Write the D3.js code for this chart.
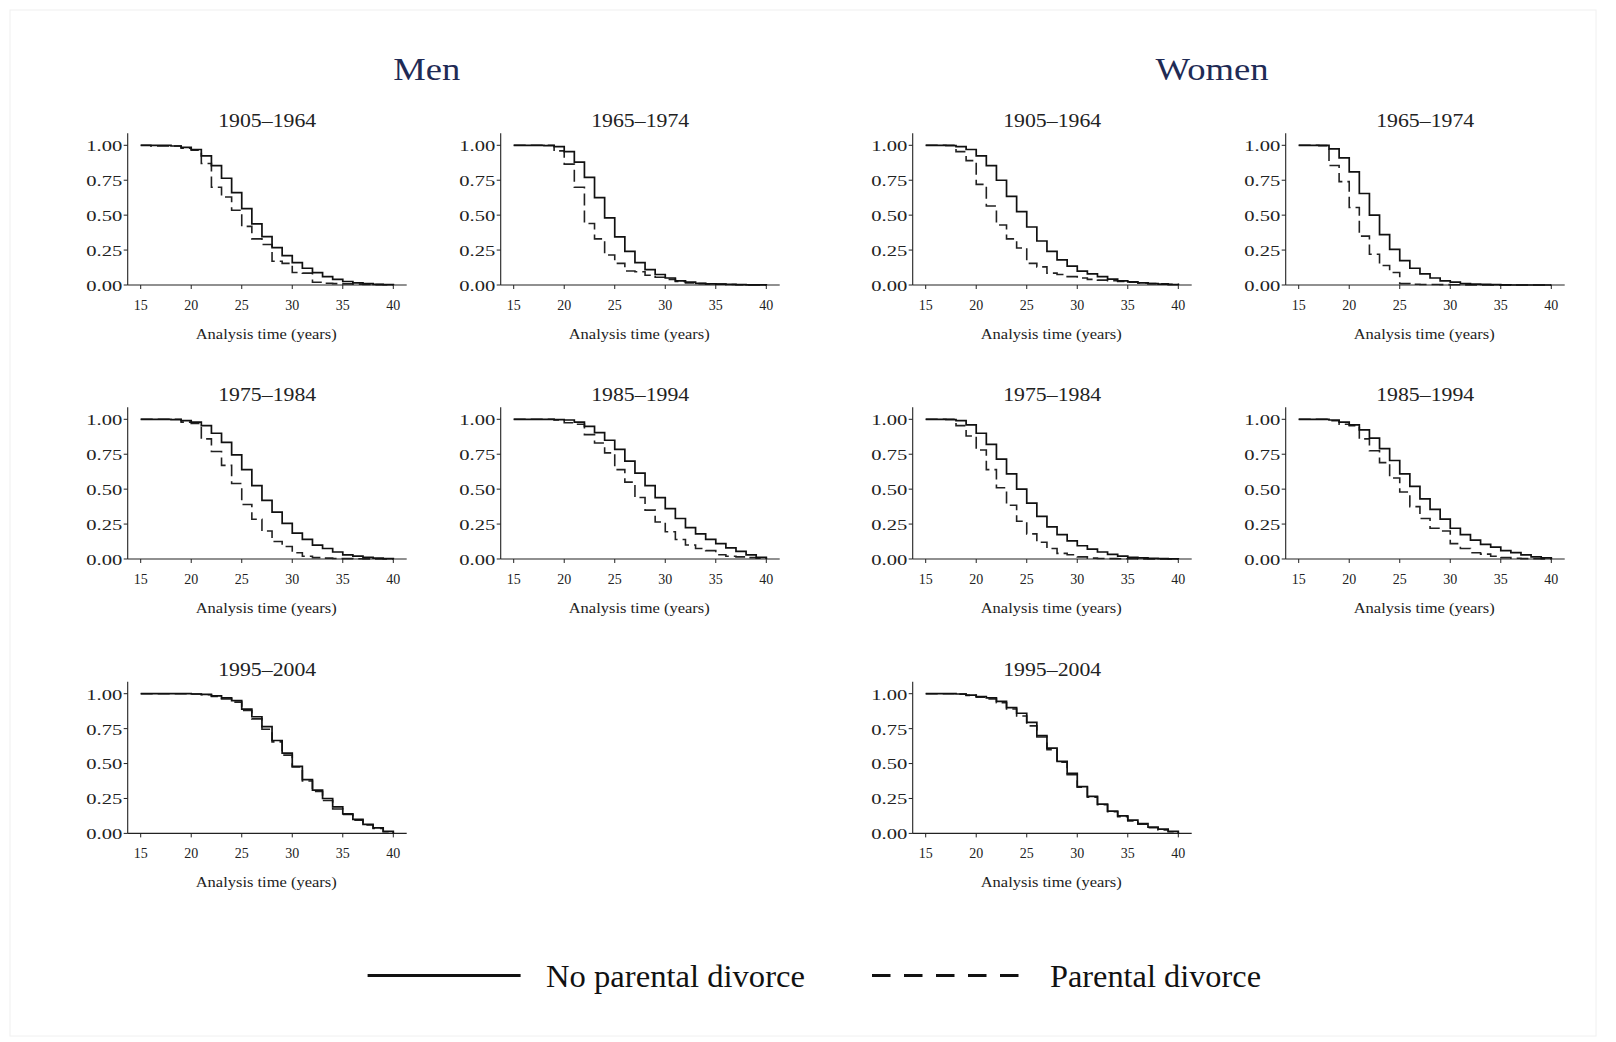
<!DOCTYPE html>
<html>
<head>
  <meta charset="UTF-8">
  <style>
    body { margin: 0; background: #fff; }
    svg { display: block; }
    text { font-family: "Liberation Serif", "Times New Roman", serif; fill: #222; }
  </style>
</head>
<body>
<svg></svg>
<script src="https://d3js.org/d3.v7.min.js"></script>
<script>

let width = 1616, height = 1042;

let svg = d3.select("svg")
    .attr("width", width)
    .attr("height", height)
    .attr("viewBox", "0 0 " + width + " " + height);

// ages (analysis time) and axis ticks
const ages = [15,16,17,18,19,20,21,22,23,24,25,26,27,28,29,30,31,32,33,34,35,36,37,38,39,40];
const xTicks = [15, 20, 25, 30, 35, 40];
const yTicks = [0, 0.25, 0.5, 0.75, 1];
const sexes = ["Men", "Women"];
const cohorts = ["1905–1964", "1965–1974", "1975–1984", "1985–1994", "1995–2004"];
const legendLabels = ["No parental divorce", "Parental divorce"];

// survival estimates, one value per age above (step after)
const menNo1905  = [1.00,1.00,1.00,0.995,0.985,0.97,0.925,0.855,0.764,0.661,0.547,0.437,0.346,0.267,0.21,0.16,0.12,0.088,0.06,0.04,0.025,0.015,0.01,0.005,0.003,0.0];
const menDiv1905 = [1.00,0.995,0.995,0.995,0.98,0.965,0.87,0.70,0.63,0.535,0.42,0.33,0.29,0.17,0.155,0.09,0.085,0.02,0.012,0.01,0.008,0.006,0.004,0.003,0.002,0.0];
const menNo1965  = [1.00,1.00,1.00,0.998,0.99,0.955,0.88,0.77,0.625,0.48,0.345,0.24,0.16,0.11,0.075,0.05,0.03,0.02,0.012,0.008,0.006,0.004,0.002,0.001,0.0005,0.0];
const menDiv1965 = [1.00,1.00,1.00,1.00,0.96,0.865,0.70,0.44,0.33,0.215,0.155,0.10,0.095,0.07,0.055,0.04,0.025,0.015,0.01,0.008,0.006,0.004,0.002,0.001,0.0,0.0];
const menNo1975  = [1.00,1.00,1.00,0.998,0.99,0.98,0.955,0.90,0.835,0.745,0.64,0.525,0.42,0.335,0.255,0.185,0.14,0.10,0.075,0.05,0.03,0.02,0.012,0.006,0.003,0.0];
const menDiv1975 = [1.00,1.00,1.00,1.00,0.98,0.97,0.86,0.77,0.67,0.54,0.39,0.285,0.20,0.125,0.09,0.045,0.02,0.01,0.006,0.004,0.003,0.002,0.001,0.0,0.0,0.0];
const menNo1985  = [1.00,1.00,1.00,1.00,0.998,0.995,0.98,0.95,0.905,0.85,0.785,0.70,0.615,0.525,0.44,0.36,0.29,0.225,0.18,0.14,0.11,0.08,0.055,0.03,0.012,0.0];
const menDiv1985 = [1.00,1.00,1.00,1.00,0.995,0.975,0.965,0.89,0.83,0.76,0.64,0.55,0.44,0.35,0.265,0.195,0.14,0.10,0.075,0.06,0.03,0.02,0.015,0.01,0.005,0.0];
const menNo1995  = [1.00,1.00,1.00,1.00,1.00,0.998,0.995,0.985,0.97,0.95,0.89,0.835,0.765,0.665,0.575,0.48,0.385,0.31,0.25,0.19,0.14,0.10,0.065,0.04,0.015,0.0];
const menDiv1995 = [1.00,1.00,1.00,1.00,1.00,0.998,0.993,0.98,0.962,0.94,0.88,0.82,0.745,0.655,0.56,0.475,0.375,0.30,0.235,0.175,0.135,0.095,0.06,0.035,0.012,0.0];

const womenNo1905  = [1.00,1.00,0.998,0.99,0.97,0.925,0.855,0.75,0.635,0.525,0.415,0.315,0.24,0.18,0.135,0.10,0.08,0.06,0.042,0.03,0.022,0.015,0.01,0.006,0.003,0.0];
const womenDiv1905 = [1.00,1.00,1.00,0.955,0.89,0.72,0.565,0.43,0.33,0.265,0.155,0.13,0.085,0.075,0.06,0.05,0.04,0.035,0.03,0.025,0.02,0.015,0.01,0.008,0.005,0.0];
const womenNo1965  = [1.00,1.00,1.00,0.975,0.91,0.81,0.655,0.50,0.36,0.255,0.175,0.12,0.08,0.05,0.03,0.02,0.01,0.006,0.004,0.002,0.001,0.0,0.0,0.0,0.0,0.0];
const womenDiv1965 = [1.00,1.00,0.998,0.855,0.74,0.555,0.35,0.22,0.14,0.09,0.01,0.005,0.004,0.004,0.003,0.002,0.001,0.0,0.0,0.0,0.0,0.0,0.0,0.0,0.0,0.0];
const womenNo1975  = [1.00,1.00,0.998,0.99,0.96,0.90,0.82,0.715,0.61,0.50,0.40,0.305,0.23,0.175,0.13,0.095,0.07,0.05,0.033,0.02,0.012,0.008,0.005,0.003,0.001,0.0];
const womenDiv1975 = [1.00,1.00,1.00,0.955,0.88,0.78,0.64,0.51,0.385,0.27,0.18,0.12,0.075,0.04,0.03,0.015,0.006,0.004,0.003,0.002,0.002,0.001,0.001,0.0,0.0,0.0];
const womenNo1985  = [1.00,1.00,1.00,0.995,0.98,0.96,0.925,0.865,0.79,0.705,0.61,0.52,0.43,0.355,0.285,0.22,0.175,0.135,0.105,0.085,0.06,0.045,0.03,0.015,0.008,0.0];
const womenDiv1985 = [1.00,1.00,1.00,0.99,0.965,0.955,0.86,0.775,0.69,0.58,0.48,0.375,0.29,0.22,0.20,0.11,0.075,0.045,0.035,0.02,0.01,0.005,0.003,0.002,0.001,0.0];
const womenNo1995  = [1.00,1.00,1.00,0.998,0.99,0.98,0.97,0.945,0.90,0.86,0.795,0.70,0.61,0.515,0.43,0.335,0.265,0.21,0.16,0.125,0.095,0.07,0.045,0.03,0.015,0.0];
const womenDiv1995 = [1.00,1.00,1.00,0.997,0.988,0.975,0.962,0.935,0.89,0.84,0.77,0.69,0.60,0.51,0.42,0.33,0.26,0.205,0.155,0.12,0.09,0.065,0.04,0.025,0.012,0.0];

// panel layout: sex, cohort index, grid column / row
let panels = [
    {sex: 0, c: 0, col: 0, row: 0, no: menNo1905, div: menDiv1905},
    {sex: 0, c: 1, col: 1, row: 0, no: menNo1965, div: menDiv1965},
    {sex: 0, c: 2, col: 0, row: 1, no: menNo1975, div: menDiv1975},
    {sex: 0, c: 3, col: 1, row: 1, no: menNo1985, div: menDiv1985},
    {sex: 0, c: 4, col: 0, row: 2, no: menNo1995, div: menDiv1995},
    {sex: 1, c: 0, col: 2, row: 0, no: womenNo1905, div: womenDiv1905},
    {sex: 1, c: 1, col: 3, row: 0, no: womenNo1965, div: womenDiv1965},
    {sex: 1, c: 2, col: 2, row: 1, no: womenNo1975, div: womenDiv1975},
    {sex: 1, c: 3, col: 3, row: 1, no: womenNo1985, div: womenDiv1985},
    {sex: 1, c: 4, col: 2, row: 2, no: womenNo1995, div: womenDiv1995}
];

let colX = [127.7, 500.7, 912.7, 1285.7];
let rowY = [133.3, 407.3, 681.7];   // top of y axis line
let pw = 279, ph = 151.7;

let x = d3.scaleLinear().domain([15, 40]).range([13, 265.6]);
let y = d3.scaleLinear().domain([0, 1]).range([ph, 12]);

let line = d3.line()
    .x((d, i) => x(ages[i]))
    .y(d => y(d))
    .curve(d3.curveStepAfter);

// faint frame
svg.append("rect")
    .attr("x", 10).attr("y", 10)
    .attr("width", 1586).attr("height", 1026)
    .attr("fill", "none")
    .attr("stroke", "#f0f0f0");

// big titles
let bigX = [426.7, 1212];
let bigW = [67, 113];
sexes.forEach((s, i) => {
    svg.append("text")
        .attr("x", bigX[i]).attr("y", 79.5)
        .attr("text-anchor", "middle")
        .attr("textLength", bigW[i])
        .attr("lengthAdjust", "spacingAndGlyphs")
        .style("font-size", "32px")
        .style("fill", "#1f2b55")
        .text(s);
});

panels.forEach(p => {
    let g = svg.append("g")
        .attr("transform", "translate(" + colX[p.col] + "," + rowY[p.row] + ")");

    // title
    g.append("text")
        .attr("x", pw / 2).attr("y", -6)
        .attr("text-anchor", "middle")
        .attr("textLength", 98)
        .attr("lengthAdjust", "spacingAndGlyphs")
        .style("font-size", "18.5px")
        .text(cohorts[p.c]);

    // axes
    g.append("line")
        .attr("x1", 0).attr("x2", 0).attr("y1", 0).attr("y2", ph)
        .attr("stroke", "#222").attr("stroke-width", 1.1);
    g.append("line")
        .attr("x1", 0).attr("x2", pw).attr("y1", ph).attr("y2", ph)
        .attr("stroke", "#222").attr("stroke-width", 1.1);

    yTicks.forEach(t => {
        g.append("line")
            .attr("x1", -4).attr("x2", 0).attr("y1", y(t)).attr("y2", y(t))
            .attr("stroke", "#222");
        g.append("text")
            .attr("x", -5.5).attr("y", y(t) + 1).attr("dy", "0.35em")
            .attr("text-anchor", "end")
            .attr("textLength", 36)
            .attr("lengthAdjust", "spacingAndGlyphs")
            .style("font-size", "14px")
            .text(d3.format(".2f")(t));
    });

    xTicks.forEach(t => {
        g.append("line")
            .attr("x1", x(t)).attr("x2", x(t)).attr("y1", ph).attr("y2", ph + 4)
            .attr("stroke", "#222");
        g.append("text")
            .attr("x", x(t)).attr("y", ph + 25)
            .attr("text-anchor", "middle")
            .style("font-size", "14px")
            .text(t);
    });

    g.append("text")
        .attr("x", pw / 2 - 1).attr("y", ph + 54)
        .attr("text-anchor", "middle")
        .attr("textLength", 141)
        .attr("lengthAdjust", "spacingAndGlyphs")
        .style("font-size", "15.5px")
        .text("Analysis time (years)");

    // curves
    g.append("path")
        .attr("d", line(p.div))
        .attr("fill", "none")
        .attr("stroke", "#222")
        .attr("stroke-width", 1.6)
        .attr("stroke-dasharray", "12,5");
    g.append("path")
        .attr("d", line(p.no))
        .attr("fill", "none")
        .attr("stroke", "#111")
        .attr("stroke-width", 1.7);
});

// legend
let legX = [367.6, 872];
let legTextX = [546, 1050];
let legTextW = [259, 211];
legendLabels.forEach((l, i) => {
    svg.append("line")
        .attr("x1", legX[i]).attr("x2", legX[i] + 153)
        .attr("y1", 975.5).attr("y2", 975.5)
        .attr("stroke", "#111")
        .attr("stroke-width", 3)
        .attr("stroke-dasharray", i == 1 ? "18.5,13.5" : null);
    svg.append("text")
        .attr("x", legTextX[i]).attr("y", 987)
        .attr("textLength", legTextW[i])
        .attr("lengthAdjust", "spacingAndGlyphs")
        .style("font-size", "31px")
        .style("fill", "#111")
        .text(l);
});

</script>
</body>
</html>
